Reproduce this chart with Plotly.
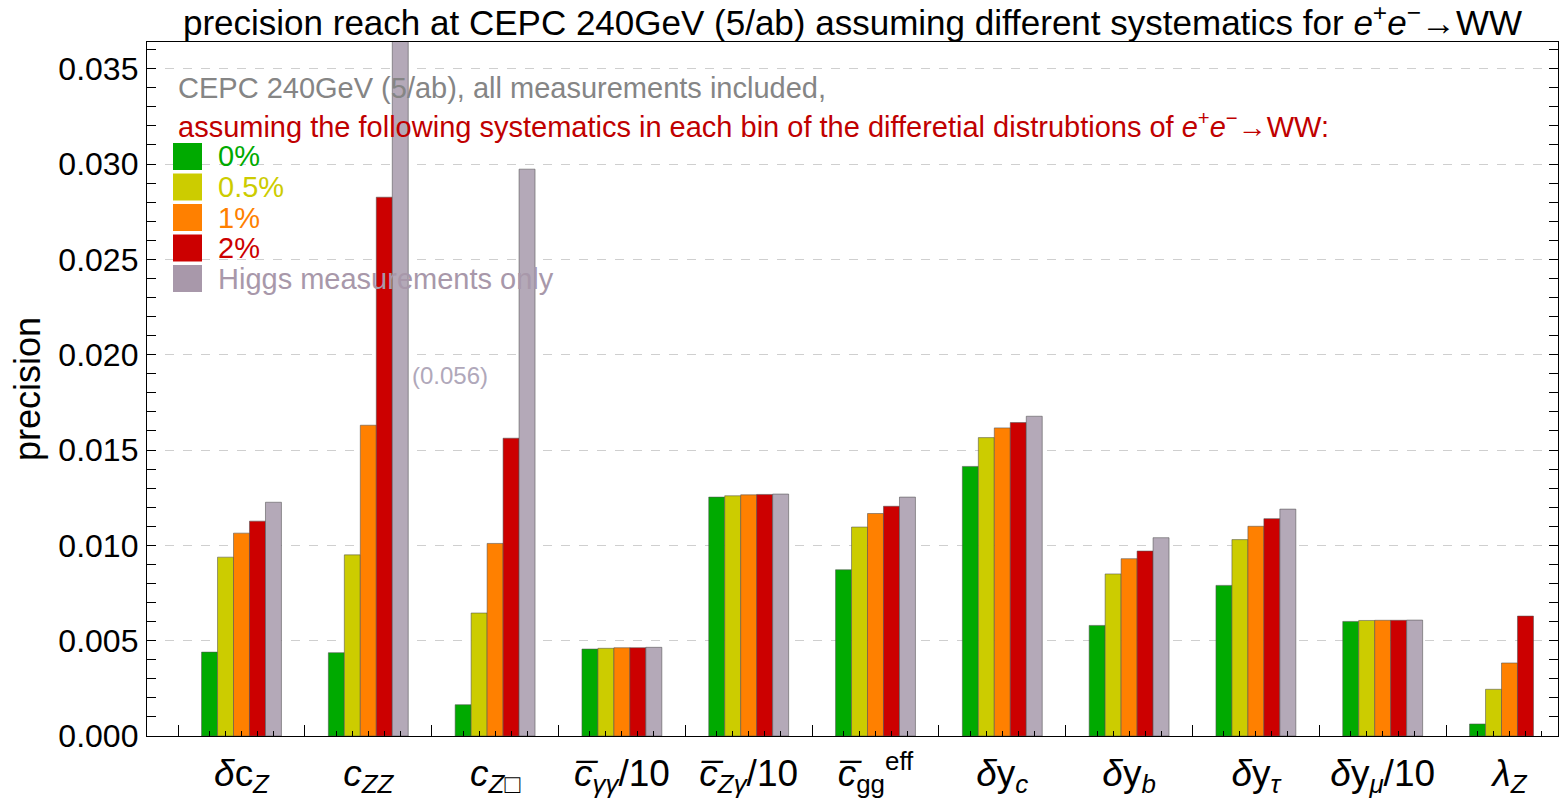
import plotly.graph_objects as go

# ---------------- data ----------------
categories = [
    "<i>δ</i>c<sub><i>Z</i></sub>",
    "<i>c</i><sub><i>ZZ</i></sub>",
    "<i>c</i><sub><i>Z</i>□</sub>",
    "<i>c\u0305</i><sub><i>γγ</i></sub>/10",
    "<i>c\u0305</i><sub><i>Zγ</i></sub>/10",
    "<i>c\u0305</i><sub>gg</sub><sup>eff</sup>",
    "<i>δ</i>y<sub><i>c</i></sub>",
    "<i>δ</i>y<sub><i>b</i></sub>",
    "<i>δ</i>y<sub><i>τ</i></sub>",
    "<i>δ</i>y<sub><i>μ</i></sub>/10",
    "<i>λ</i><sub><i>Z</i></sub>",
]
series_names = ["0%", "0.5%", "1%", "2%", "Higgs measurements only"]
sys_0 = [0.0044, 0.00437, 0.00164, 0.00456, 0.01253, 0.00872, 0.01414, 0.0058, 0.0079, 0.00601, 0.00063]
sys_05 = [0.00938, 0.0095, 0.00645, 0.0046, 0.0126, 0.01096, 0.01565, 0.0085, 0.0103, 0.00606, 0.00245]
sys_1 = [0.01064, 0.0163, 0.0101, 0.00463, 0.01265, 0.01167, 0.01616, 0.0093, 0.0110, 0.00607, 0.00383]
sys_2 = [0.01127, 0.02826, 0.01562, 0.00463, 0.01267, 0.01205, 0.01644, 0.0097, 0.0114, 0.00607, 0.00629]
higgs_only = [0.01226, 0.056, 0.02973, 0.00465, 0.01269, 0.01253, 0.01677, 0.0104, 0.0119, 0.00608, None]
series_values = [sys_0, sys_05, sys_1, sys_2, higgs_only]
bar_colors = ["#00aa00", "#cccc00", "#ff8000", "#cc0000", "#b4a9b8"]
legend_colors = ["#00aa00", "#cccc00", "#ff8000", "#cc0000", "#a898aa"]
y_ticks = [0.0, 0.005, 0.010, 0.015, 0.020, 0.025, 0.030, 0.035]

title_text = ("precision reach at CEPC 240GeV (5/ab) assuming different systematics for "
              "<i>e</i><sup>+</sup><i>e</i><sup>−</sup>→WW")
note1 = "CEPC 240GeV (5/ab), all measurements included,"
note2 = ("assuming the following systematics in each bin of the differetial distrubtions of "
         "<i>e</i><sup>+</sup><i>e</i><sup>−</sup>→WW:")
clipped_label = "(0.056)"

# ---------------- layout geometry ----------------
FW, FH = 1563, 803
L, R, T, B = 147, 1558, 42, 736
PW, PH = R - L, B - T
FONT = "Liberation Sans, Arial, sans-serif"

def pxx(x):
    return (x - L) / PW

def pxy(y):
    return (B - y) / PH

n_cat = len(categories)
n_ser = len(series_values)
group_frac = 0.63
bar_w = group_frac / n_ser
xs = list(range(n_cat))

fig = go.Figure()
for name, vals, col in zip(series_names, series_values, bar_colors):
    fig.add_trace(go.Bar(
        x=xs, y=vals, name=name,
        marker=dict(color=col, line=dict(color="rgba(80,80,80,0.55)", width=1)),
        showlegend=False,
    ))

# bar-position ticks (secondary overlaying axis, no labels)
bar_tick_pos = [i + (k - (n_ser - 1) / 2) * bar_w for i in range(n_cat) for k in range(n_ser)]
boundary_pos = [i - 0.5 for i in range(n_cat + 1)]
fig.add_trace(go.Scatter(x=[0], y=[0], xaxis="x2", yaxis="y", mode="markers",
                         marker=dict(opacity=0), showlegend=False, hoverinfo="skip"))

xr = [(L - 241.5) / 126.8, (R - 241.5) / 126.8]

fig.update_layout(
    width=FW, height=FH,
    margin=dict(l=L, r=FW - R, t=T, b=FH - B, pad=0),
    paper_bgcolor="white", plot_bgcolor="white",
    barmode="group", bargap=1 - group_frac, bargroupgap=0,
    font=dict(family=FONT, color="black"),
    title=dict(text=title_text, font=dict(size=35, family=FONT, color="black"),
               x=0.5, xref="paper", xanchor="center", y=1 - 23 / FH, yref="container", yanchor="middle"),
    xaxis=dict(
        range=xr, tickmode="array", tickvals=xs, ticktext=categories,
        ticks="", ticklabelstandoff=4, tickfont=dict(size=37, family=FONT),
        showline=True, linecolor="black", linewidth=1.3, mirror=True,
        showgrid=False, zeroline=False,
        minor=dict(tickmode="array", tickvals=boundary_pos, ticks="inside", ticklen=11,
                   tickcolor="black", tickwidth=1, showgrid=False),
    ),
    xaxis2=dict(
        range=xr, overlaying="x", anchor="y", side="bottom",
        tickmode="array", tickvals=bar_tick_pos, ticks="inside", ticklen=5,
        tickcolor="black", tickwidth=1, showticklabels=False, showgrid=False,
        zeroline=False, showline=False,
    ),
    yaxis=dict(
        range=[0, 0.0364], tickmode="array", tickvals=y_ticks, tickformat=".3f",
        ticks="inside", ticklen=9, tickwidth=1, tickcolor="black",
        ticklabelstandoff=1, tickfont=dict(size=32, family=FONT),
        showline=True, linecolor="black", linewidth=1.3, mirror="allticks",
        showgrid=True, gridcolor="#cfcfcf", griddash="dash", gridwidth=1,
        zeroline=False,
        minor=dict(dtick=0.001, tick0=0, ticks="inside", ticklen=5, tickcolor="black",
                   tickwidth=1, showgrid=False),
        title=dict(text="precision", font=dict(size=36, family=FONT), standoff=6),
    ),
)

anns = []
anns.append(dict(text=note1, xref="paper", yref="paper", x=pxx(176), y=pxy(88),
                 xanchor="left", yanchor="middle", showarrow=False,
                 font=dict(size=29, family=FONT, color="#858585")))
anns.append(dict(text=note2, xref="paper", yref="paper", x=pxx(176), y=pxy(125),
                 xanchor="left", yanchor="middle", showarrow=False,
                 font=dict(size=29, family=FONT, color="#c00000")))
shapes = []
row0, row_step, sq = 156.5, 30.5, 27
for k, (name, col) in enumerate(zip(series_names, legend_colors)):
    cy = row0 + k * row_step
    shapes.append(dict(type="rect", xref="paper", yref="paper",
                       x0=pxx(173), x1=pxx(202), y0=pxy(cy + sq / 2), y1=pxy(cy - sq / 2),
                       fillcolor=col, line=dict(width=0)))
    anns.append(dict(text=name, xref="paper", yref="paper", x=pxx(216), y=pxy(cy),
                     xanchor="left", yanchor="middle", showarrow=False,
                     font=dict(size=29, family=FONT, color=col)))
# label for clipped bar
anns.append(dict(text=clipped_label, xref="x", yref="y", x=1 + 2.5 * bar_w + 0.01, y=0.0189,
                 xanchor="left", yanchor="middle", showarrow=False,
                 font=dict(size=24, family=FONT, color="#b0a8ba")))
fig.update_layout(annotations=anns, shapes=shapes)

fig.write_html("out.html")
